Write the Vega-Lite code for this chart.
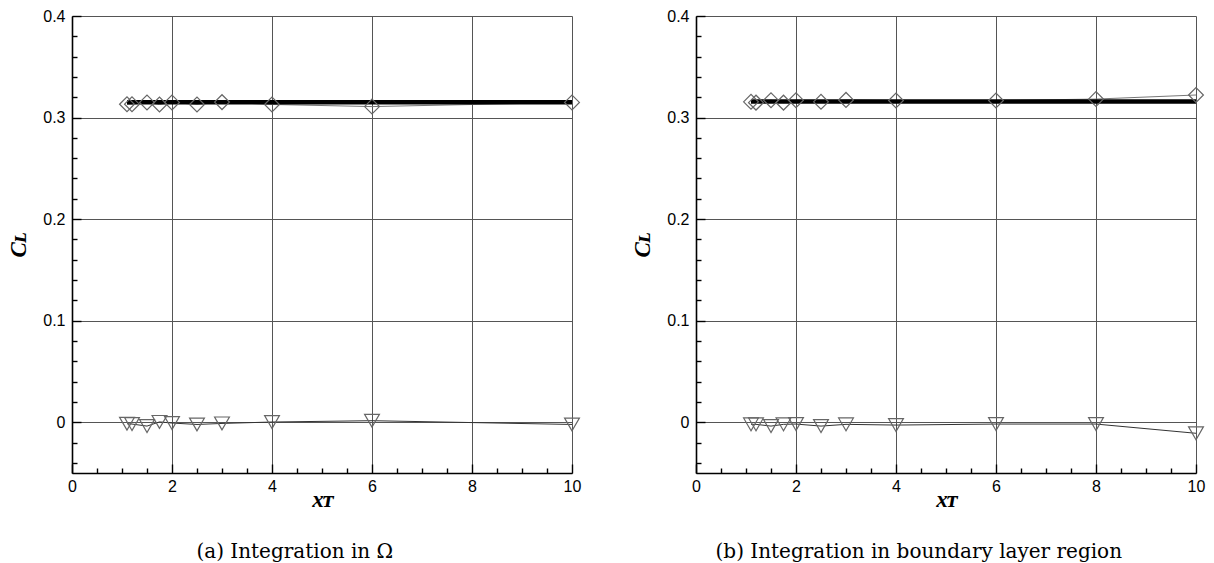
{
  "$schema": "https://vega.github.io/schema/vega-lite/v6.json",
  "background": "white",
  "padding": {"left": 7, "top": 8, "right": 5, "bottom": 0},
  "spacing": 49,
  "config": {
    "view": {"stroke": null},
    "axis": {
      "domain": true,
      "domainColor": "black",
      "domainWidth": 1.6,
      "ticks": true,
      "tickColor": "black",
      "tickWidth": 1.4,
      "gridColor": "#555555",
      "gridWidth": 1,
      "labelFont": "Liberation Sans",
      "labelFontSize": 16,
      "labelColor": "black",
      "labelFlush": false,
      "labelOverlap": false,
      "titleFont": "Liberation Serif",
      "titleFontSize": 23,
      "titleFontWeight": "bold",
      "titleFontStyle": "italic",
      "titleColor": "black"
    },
    "title": {"font": "DejaVu Serif", "fontSize": 20, "fontWeight": "normal", "color": "black"}
  },
  "datasets": {
    "omega": [
      {"series": "ref", "x": 1.1, "CL": 0.315},
      {"series": "ref", "x": 10, "CL": 0.315},
      {"series": "diamond", "x": 1.1, "CL": 0.3131},
      {"series": "diamond", "x": 1.2, "CL": 0.3132},
      {"series": "diamond", "x": 1.5, "CL": 0.3149},
      {"series": "diamond", "x": 1.75, "CL": 0.3129},
      {"series": "diamond", "x": 2, "CL": 0.3149},
      {"series": "diamond", "x": 2.5, "CL": 0.3129},
      {"series": "diamond", "x": 3, "CL": 0.3152},
      {"series": "diamond", "x": 4, "CL": 0.3129},
      {"series": "diamond", "x": 6, "CL": 0.3108},
      {"series": "diamond", "x": 10, "CL": 0.3149},
      {"series": "triangle", "x": 1.1, "CL": -0.0015},
      {"series": "triangle", "x": 1.2, "CL": -0.0018},
      {"series": "triangle", "x": 1.5, "CL": -0.0038},
      {"series": "triangle", "x": 1.75, "CL": 0.0003},
      {"series": "triangle", "x": 2, "CL": -0.0008},
      {"series": "triangle", "x": 2.5, "CL": -0.0022},
      {"series": "triangle", "x": 3, "CL": -0.0012},
      {"series": "triangle", "x": 4, "CL": 0.0002},
      {"series": "triangle", "x": 6, "CL": 0.0015},
      {"series": "triangle", "x": 10, "CL": -0.0022}
    ],
    "bl": [
      {"series": "ref", "x": 1.1, "CL": 0.3157},
      {"series": "ref", "x": 10, "CL": 0.3157},
      {"series": "diamond", "x": 1.1, "CL": 0.3155},
      {"series": "diamond", "x": 1.2, "CL": 0.3147},
      {"series": "diamond", "x": 1.5, "CL": 0.3171},
      {"series": "diamond", "x": 1.75, "CL": 0.3147},
      {"series": "diamond", "x": 2, "CL": 0.3171},
      {"series": "diamond", "x": 2.5, "CL": 0.3155},
      {"series": "diamond", "x": 3, "CL": 0.3174},
      {"series": "diamond", "x": 4, "CL": 0.3168},
      {"series": "diamond", "x": 6, "CL": 0.3168},
      {"series": "diamond", "x": 8, "CL": 0.3182},
      {"series": "diamond", "x": 10, "CL": 0.3222},
      {"series": "triangle", "x": 1.1, "CL": -0.0021},
      {"series": "triangle", "x": 1.2, "CL": -0.0021},
      {"series": "triangle", "x": 1.5, "CL": -0.0038},
      {"series": "triangle", "x": 1.75, "CL": -0.0021},
      {"series": "triangle", "x": 2, "CL": -0.0018},
      {"series": "triangle", "x": 2.5, "CL": -0.0038},
      {"series": "triangle", "x": 3, "CL": -0.0021},
      {"series": "triangle", "x": 4, "CL": -0.0028},
      {"series": "triangle", "x": 6, "CL": -0.0018},
      {"series": "triangle", "x": 8, "CL": -0.0018},
      {"series": "triangle", "x": 10, "CL": -0.0109}
    ]
  },
  "hconcat": [
    {
      "width": 500,
      "height": 457,
      "data": {"name": "omega"},
      "title": {"text": "(a) Integration in Ω", "orient": "bottom", "anchor": "middle", "frame": "bounds", "offset": 31},
      "encoding": {
        "x": {
          "field": "x", "type": "quantitative",
          "scale": {"domain": [0, 10], "nice": false},
          "axis": {
            "title": "xᴛ",
            "values": [0, 0.5, 1, 1.5, 2, 2.5, 3, 3.5, 4, 4.5, 5, 5.5, 6, 6.5, 7, 7.5, 8, 8.5, 9, 9.5, 10],
            "labelExpr": "datum.value % 2 == 0 ? format(datum.value, 'd') : ''",
            "tickSize": {"condition": {"test": "datum.value % 2 == 0", "value": -9}, "value": -5},
            "gridOpacity": {"condition": {"test": "datum.value % 2 == 0", "value": 1}, "value": 0},
            "labelPadding": 14,
            "titlePadding": -10
          }
        },
        "y": {
          "field": "CL", "type": "quantitative",
          "scale": {"domain": [-0.05, 0.4], "nice": false, "zero": false},
          "axis": {
            "title": "Cʟ",
            "values": [-0.04, -0.02, 0, 0.02, 0.04, 0.06, 0.08, 0.1, 0.12, 0.14, 0.16, 0.18, 0.2, 0.22, 0.24, 0.26, 0.28, 0.3, 0.32, 0.34, 0.36, 0.38, 0.4],
            "labelExpr": "abs(datum.value*10 - round(datum.value*10)) < 0.001 ? (datum.value == 0 ? '0' : format(datum.value, '.1f')) : ''",
            "tickSize": {"condition": {"test": "abs(datum.value*10 - round(datum.value*10)) < 0.001", "value": -9}, "value": -5},
            "gridOpacity": {"condition": {"test": "abs(datum.value*10 - round(datum.value*10)) < 0.001", "value": 1}, "value": 0},
            "labelPadding": 16,
            "titlePadding": 12
          }
        }
      },
      "layer": [
        {"transform": [{"filter": "datum.series == 'diamond'"}], "mark": {"type": "line", "color": "#777777", "strokeWidth": 1}},
        {"transform": [{"filter": "datum.series == 'triangle'"}], "mark": {"type": "line", "color": "#333333", "strokeWidth": 1}},
        {"transform": [{"filter": "datum.series == 'ref'"}], "mark": {"type": "line", "color": "black", "strokeWidth": 4.5}},
        {
          "transform": [{"filter": "datum.series != 'ref'"}],
          "mark": {"type": "point", "filled": false, "color": "#666666", "strokeWidth": 1.2, "opacity": 1, "size": 220},
          "encoding": {"shape": {"field": "series", "type": "nominal", "scale": {"domain": ["diamond", "triangle"], "range": ["diamond", "triangle-down"]}, "legend": null}}
        }
      ]
    },
    {
      "width": 500,
      "height": 457,
      "data": {"name": "bl"},
      "title": {"text": "(b) Integration in boundary layer region", "orient": "bottom", "anchor": "middle", "frame": "bounds", "offset": 31},
      "encoding": {
        "x": {
          "field": "x", "type": "quantitative",
          "scale": {"domain": [0, 10], "nice": false},
          "axis": {
            "title": "xᴛ",
            "values": [0, 0.5, 1, 1.5, 2, 2.5, 3, 3.5, 4, 4.5, 5, 5.5, 6, 6.5, 7, 7.5, 8, 8.5, 9, 9.5, 10],
            "labelExpr": "datum.value % 2 == 0 ? format(datum.value, 'd') : ''",
            "tickSize": {"condition": {"test": "datum.value % 2 == 0", "value": -9}, "value": -5},
            "gridOpacity": {"condition": {"test": "datum.value % 2 == 0", "value": 1}, "value": 0},
            "labelPadding": 14,
            "titlePadding": -10
          }
        },
        "y": {
          "field": "CL", "type": "quantitative",
          "scale": {"domain": [-0.05, 0.4], "nice": false, "zero": false},
          "axis": {
            "title": "Cʟ",
            "values": [-0.04, -0.02, 0, 0.02, 0.04, 0.06, 0.08, 0.1, 0.12, 0.14, 0.16, 0.18, 0.2, 0.22, 0.24, 0.26, 0.28, 0.3, 0.32, 0.34, 0.36, 0.38, 0.4],
            "labelExpr": "abs(datum.value*10 - round(datum.value*10)) < 0.001 ? (datum.value == 0 ? '0' : format(datum.value, '.1f')) : ''",
            "tickSize": {"condition": {"test": "abs(datum.value*10 - round(datum.value*10)) < 0.001", "value": -9}, "value": -5},
            "gridOpacity": {"condition": {"test": "abs(datum.value*10 - round(datum.value*10)) < 0.001", "value": 1}, "value": 0},
            "labelPadding": 16,
            "titlePadding": 12
          }
        }
      },
      "layer": [
        {"transform": [{"filter": "datum.series == 'diamond'"}], "mark": {"type": "line", "color": "#777777", "strokeWidth": 1}},
        {"transform": [{"filter": "datum.series == 'triangle'"}], "mark": {"type": "line", "color": "#333333", "strokeWidth": 1}},
        {"transform": [{"filter": "datum.series == 'ref'"}], "mark": {"type": "line", "color": "black", "strokeWidth": 4.5}},
        {
          "transform": [{"filter": "datum.series != 'ref'"}],
          "mark": {"type": "point", "filled": false, "color": "#666666", "strokeWidth": 1.2, "opacity": 1, "size": 220},
          "encoding": {"shape": {"field": "series", "type": "nominal", "scale": {"domain": ["diamond", "triangle"], "range": ["diamond", "triangle-down"]}, "legend": null}}
        }
      ]
    }
  ]
}
